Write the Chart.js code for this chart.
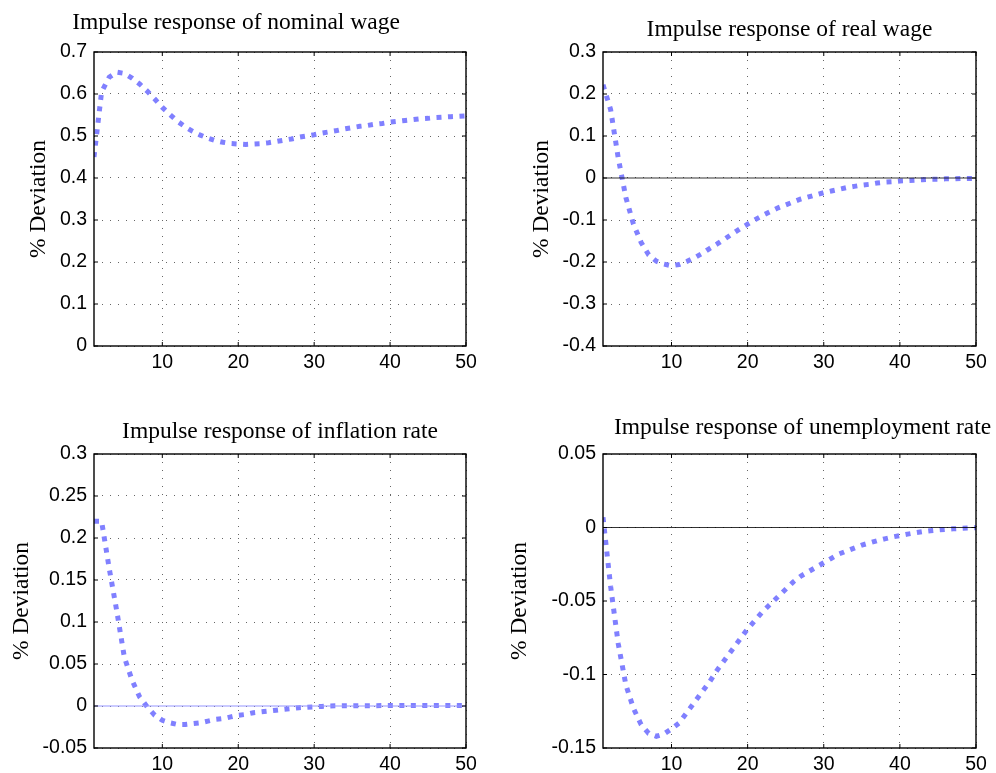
<!DOCTYPE html>
<html>
<head>
<meta charset="utf-8">
<script src="https://cdn.jsdelivr.net/npm/chart.js@4"></script>
<style>
  body { margin: 0; background: #fff; }
  #wrap { position: relative; width: 996px; height: 773px; }
  #wrap canvas { position: absolute; }
</style>
</head>
<body>
<div id="wrap">
  <canvas id="nominal" width="498" height="386" style="left:0;top:0"></canvas>
  <canvas id="real" width="498" height="386" style="left:498px;top:0"></canvas>
  <canvas id="inflation" width="498" height="387" style="left:0;top:386px"></canvas>
  <canvas id="unemployment" width="498" height="387" style="left:498px;top:386px"></canvas>
</div>
<script>
// periods 1..50
const periods = [1,2,3,4,5,6,7,8,9,10,11,12,13,14,15,16,17,18,19,20,21,22,23,24,25,
  26,27,28,29,30,31,32,33,34,35,36,37,38,39,40,41,42,43,44,45,46,47,48,49,50];
const xTicks = [10, 20, 30, 40, 50];

const nominalWage = [0.450, 0.605, 0.640, 0.652, 0.649, 0.638, 0.624, 0.607, 0.588, 0.568,
  0.551, 0.535, 0.522, 0.511, 0.502, 0.495, 0.489, 0.485, 0.482, 0.481,
  0.480, 0.481, 0.482, 0.484, 0.487, 0.490, 0.493, 0.497, 0.500, 0.503,
  0.507, 0.510, 0.513, 0.517, 0.520, 0.523, 0.525, 0.528, 0.530, 0.533,
  0.535, 0.537, 0.539, 0.541, 0.542, 0.544, 0.545, 0.546, 0.547, 0.548];

const realWage = [0.222, 0.163, 0.048, -0.046, -0.110, -0.153, -0.183, -0.198, -0.205, -0.209,
  -0.206, -0.199, -0.190, -0.180, -0.168, -0.157, -0.145, -0.133, -0.121, -0.110,
  -0.099, -0.089, -0.080, -0.071, -0.064, -0.057, -0.050, -0.045, -0.040, -0.035,
  -0.031, -0.027, -0.023, -0.020, -0.017, -0.015, -0.012, -0.010, -0.009, -0.007,
  -0.006, -0.005, -0.004, -0.003, -0.003, -0.002, -0.002, -0.001, -0.001, -0.001];

const inflationRate = [0.220, 0.220, 0.164, 0.113, 0.058, 0.031, 0.011, -0.001, -0.011, -0.017,
  -0.020, -0.022, -0.022, -0.021, -0.020, -0.018, -0.016, -0.015, -0.013, -0.011,
  -0.010, -0.008, -0.007, -0.006, -0.005, -0.004, -0.003, -0.002, -0.0015, -0.001,
  -0.0005, 0, 0.0002, 0.0003, 0.0003, 0.0004, 0.0004, 0.0004, 0.0005, 0.0005,
  0.0005, 0.0005, 0.0005, 0.0005, 0.0005, 0.0005, 0.0005, 0.0005, 0.0005, 0.0005];

const unemploymentRate = [0.007, -0.040, -0.079, -0.107, -0.123, -0.134, -0.140, -0.142, -0.1405, -0.137,
  -0.133, -0.126, -0.119, -0.112, -0.105, -0.097, -0.090, -0.083, -0.076, -0.069,
  -0.063, -0.057, -0.052, -0.047, -0.042, -0.037, -0.033, -0.030, -0.027, -0.024,
  -0.021, -0.018, -0.016, -0.014, -0.012, -0.0105, -0.009, -0.0077, -0.0065, -0.0055,
  -0.0045, -0.0036, -0.0028, -0.0022, -0.0017, -0.0013, -0.0009, -0.0006, -0.0003, -0.0001];

const nominalTicks = [0, 0.1, 0.2, 0.3, 0.4, 0.5, 0.6, 0.7];
const realTicks = [-0.4, -0.3, -0.2, -0.1, 0, 0.1, 0.2, 0.3];
const inflationTicks = [-0.05, 0, 0.05, 0.1, 0.15, 0.2, 0.25, 0.3];
const unemploymentTicks = [-0.15, -0.1, -0.05, 0, 0.05];

const lineBlue = 'rgb(128,128,255)';

// title over the plot box, offset like the original figure
const panelTitle = {
  id: 'panelTitle',
  afterDraw(chart, args, opts) {
    const { ctx, chartArea: a } = chart;
    ctx.save();
    ctx.font = '23.5px "Liberation Serif"';
    ctx.fillStyle = '#000';
    ctx.textAlign = 'center';
    ctx.textBaseline = 'alphabetic';
    ctx.fillText(opts.text, (a.left + a.right) / 2 + opts.dx, a.top - opts.rise);
    ctx.restore();
  }
};

// box round the axes with inward ticks on all sides (matlab style)
const frame = {
  id: 'frame',
  afterDraw(chart) {
    const { ctx, chartArea: a, scales: { x, y } } = chart;
    ctx.save();
    ctx.strokeStyle = '#000';
    ctx.lineWidth = 1.4;
    ctx.strokeRect(a.left, a.top, a.right - a.left, a.bottom - a.top);
    ctx.lineWidth = 1;
    ctx.beginPath();
    x.ticks.forEach(t => {
      const px = x.getPixelForValue(t.value);
      ctx.moveTo(px, a.bottom); ctx.lineTo(px, a.bottom - 4);
      ctx.moveTo(px, a.top); ctx.lineTo(px, a.top + 4);
    });
    y.ticks.forEach(t => {
      const py = y.getPixelForValue(t.value);
      ctx.moveTo(a.left, py); ctx.lineTo(a.left + 4, py);
      ctx.moveTo(a.right, py); ctx.lineTo(a.right - 4, py);
    });
    ctx.stroke();
    ctx.restore();
  }
};

function fmt(v) {
  return String(Math.round(v * 100) / 100);
}

function makePanel(id, p) {
  const datasets = [];
  if (p.zeroColor) {
    datasets.push({
      data: [{ x: 1, y: 0 }, { x: 50, y: 0 }],
      borderColor: p.zeroColor,
      borderWidth: 1.2,
      pointRadius: 0
    });
  }
  datasets.push({
    data: p.values,
    borderColor: lineBlue,
    borderWidth: 5,
    borderDash: [5, 6.5],
    borderCapStyle: 'butt',
    pointRadius: 0,
    tension: 0
  });

  new Chart(document.getElementById(id), {
    type: 'line',
    data: { labels: periods, datasets },
    plugins: [panelTitle, frame],
    options: {
      responsive: false,
      animation: false,
      layout: { padding: p.padding },
      plugins: {
        legend: { display: false },
        tooltip: { enabled: false },
        panelTitle: { text: p.title, dx: p.dx, rise: p.rise }
      },
      scales: {
        x: {
          type: 'linear',
          min: 1,
          max: 50,
          afterBuildTicks: s => { s.ticks = xTicks.map(v => ({ value: v })); },
          afterFit: s => { s.height = p.xHeight; },
          grid: { color: '#666', lineWidth: 1, drawTicks: false },
          border: { display: false, dash: [1, 7] },
          ticks: {
            font: { family: 'Liberation Sans', size: 19.5 },
            color: '#000',
            padding: 5,
            maxRotation: 0,
            autoSkip: false
          }
        },
        y: {
          min: p.yTicks[0],
          max: p.yTicks[p.yTicks.length - 1],
          afterBuildTicks: s => { s.ticks = p.yTicks.map(v => ({ value: v })); },
          afterFit: s => { s.width = p.yWidth; },
          grid: { color: '#666', lineWidth: 1, drawTicks: false },
          border: { display: false, dash: [1, 7] },
          ticks: {
            font: { family: 'Liberation Sans', size: 19.5 },
            color: '#000',
            padding: 7,
            callback: v => fmt(v)
          },
          title: {
            display: true,
            text: '% Deviation',
            color: '#000',
            font: { family: 'Liberation Serif', size: 23.5 },
            padding: { top: p.yTitlePad, bottom: 0 }
          }
        }
      }
    }
  });
}

makePanel('nominal', {
  values: nominalWage, yTicks: nominalTicks,
  title: 'Impulse response of nominal wage', dx: -44, rise: 23,
  padding: { top: 52, right: 32, bottom: 0, left: 0 },
  yWidth: 94, xHeight: 40, yTitlePad: 25
});
makePanel('real', {
  values: realWage, yTicks: realTicks, zeroColor: 'rgba(0,0,0,0.8)',
  title: 'Impulse response of real wage', dx: 0, rise: 16,
  padding: { top: 52, right: 20, bottom: 0, left: 0 },
  yWidth: 105, xHeight: 40, yTitlePad: 30
});
makePanel('inflation', {
  values: inflationRate, yTicks: inflationTicks, zeroColor: 'rgb(150,150,255)',
  title: 'Impulse response of inflation rate', dx: 0, rise: 16,
  padding: { top: 68, right: 32, bottom: 0, left: 0 },
  yWidth: 94, xHeight: 25, yTitlePad: 8
});
makePanel('unemployment', {
  values: unemploymentRate, yTicks: unemploymentTicks, zeroColor: 'rgba(0,0,0,0.8)',
  title: 'Impulse response of unemployment rate', dx: 13, rise: 20,
  padding: { top: 68, right: 20, bottom: 0, left: 0 },
  yWidth: 105, xHeight: 25, yTitlePad: 8
});
</script>
</body>
</html>
